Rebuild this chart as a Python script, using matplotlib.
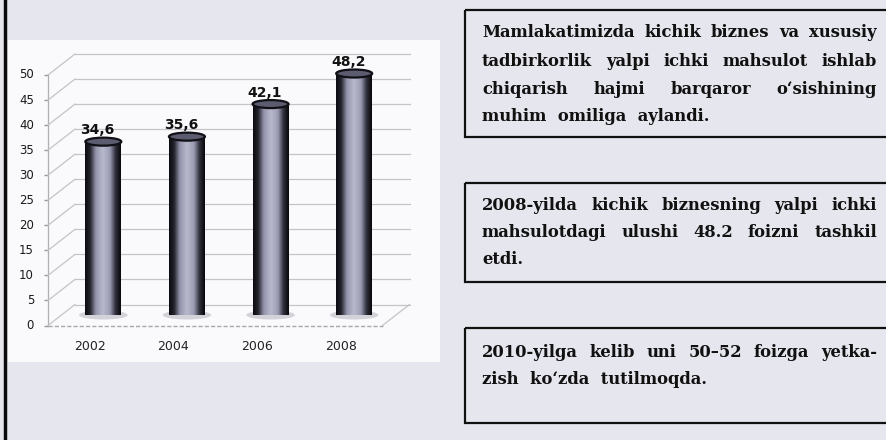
import numpy as np
import matplotlib.pyplot as plt
from matplotlib.colors import LinearSegmentedColormap
from matplotlib.patches import Rectangle, Ellipse
from matplotlib.lines import Line2D
from matplotlib.transforms import ScaledTranslation, IdentityTransform

# data
years = ['2002', '2004', '2006', '2008']
values = [34.6, 35.6, 42.1, 48.2]
value_labels = ['34,6', '35,6', '42,1', '48,2']
y_ticks = list(range(0, 55, 5))

box1_lines = ['Mamlakatimizda kichik biznes va xususiy',
              'tadbirkorlik yalpi ichki mahsulot ishlab',
              'chiqarish hajmi barqaror o‘sishining',
              'muhim omiliga aylandi.']
box2_lines = ['2008-yilda kichik biznesning yalpi ichki',
              'mahsulotdagi ulushi 48.2 foizni tashkil',
              'etdi.']
box3_lines = ['2010-yilga kelib uni 50–52 foizga yetka-',
              'zish ko‘zda tutilmoqda.']

W, H = 886, 440
fig = plt.figure(figsize=(W / 100, H / 100), dpi=100)
fig.patch.set_facecolor('#e6e6ee')

# background layer in pixel coordinates
bg = fig.add_axes([0, 0, 1, 1])
bg.set_xlim(0, W)
bg.set_ylim(H, 0)
bg.axis('off')
bg.add_patch(Rectangle((8, 40), 432, 322, fc='#fafafc', ec='none'))
bg.plot([5, 5], [0, H], color='#0a0a0a', lw=2.5)

# text boxes
boxes = [(10, 137, box1_lines, [37, 65.5, 94, 121]),
         (183, 282, box2_lines, [210, 237, 263.5]),
         (328, 423, box3_lines, [357, 383.5])]
txt_kw = dict(family=['DejaVu Serif'], fontweight='bold',
              fontsize=11.8, color='#111111', va='baseline', ha='left')
renderer = fig.canvas.get_renderer()
x_left, x_right = 482, 877


def justify(words, y):
    texts = [bg.text(0, y, w, **txt_kw) for w in words]
    widths = [t.get_window_extent(renderer).width for t in texts]
    gap = (x_right - x_left - sum(widths)) / (len(words) - 1)
    x = x_left
    for t, wd in zip(texts, widths):
        t.set_x(x)
        x += wd + gap


for y0, y1, lines, bases in boxes:
    bg.add_patch(Rectangle((465, y0), 440, y1 - y0, fc='none', ec='#111111', lw=1.6))
    for k, (line, yb) in enumerate(zip(lines, bases)):
        if k == len(lines) - 1:
            bg.text(x_left, yb, line.replace(' ', '  '), **txt_kw)
        else:
            justify(line.split(' '), yb)

# chart axes (mid-depth plane of the 3D chart)
ax = fig.add_axes([61.5 / W, (H - 315) / H, (396 - 61.5) / W, (315 - 64.5) / H])
ax.axis('off')
ax.patch.set_alpha(0)

dx, dy = 13.5 / 100, 10.5 / 100
back = ax.transData + ScaledTranslation(dx, dy, fig.dpi_scale_trans)
front = ax.transData + ScaledTranslation(-dx, -dy, fig.dpi_scale_trans)
ax.set_xlim(-0.5, 3.5)
ax.set_ylim(0, 50)

grid_c = '#c4c4c8'
for v in y_ticks:
    ax.plot([-0.5, 3.5], [v, v], transform=back, color=grid_c, lw=0.9, clip_on=False, zorder=1)
    pf = front.transform((-0.5, v))
    pb = back.transform((-0.5, v))
    fig.add_artist(Line2D([pf[0], pb[0]], [pf[1], pb[1]], transform=IdentityTransform(),
                          color=grid_c, lw=0.9))
    ax.text(-0.5, v, str(v), transform=front + ScaledTranslation(-0.14, 0, fig.dpi_scale_trans),
            ha='right', va='center', fontsize=8.5, color='#1a1a1a')

# floor and front axis
ax.plot([-0.5, 3.5], [0, 0], transform=front, color='#a8a8ac', lw=1, ls=(0, (3, 1.5)), clip_on=False)
ax.plot([-0.5, -0.5], [0, 50], transform=front, color='#b0b0b4', lw=0.9, clip_on=False)
ax.plot([-0.5] * len(y_ticks), y_ticks, ls='none', marker=0, ms=3, color='#999999',
        transform=front, clip_on=False)
pf = front.transform((3.5, 0))
pb = back.transform((3.5, 0))
fig.add_artist(Line2D([pf[0], pb[0]], [pf[1], pb[1]], transform=IdentityTransform(),
                      color=grid_c, lw=0.9))

for i, yr in enumerate(years):
    ax.text(i, 0, yr, transform=front + ScaledTranslation(0, -0.215, fig.dpi_scale_trans),
            ha='center', va='center', fontsize=9, color='#222222')

# cylinders
cmap = LinearSegmentedColormap.from_list('cyl', [
    (0.0, '#0a0a10'), (0.14, '#22222c'), (0.3, '#9494ac'), (0.5, '#babace'),
    (0.7, '#9a9ab2'), (0.85, '#30303c'), (1.0, '#06060a')])
grad = np.linspace(0, 1, 128).reshape(1, -1)
w = 0.43
for i, v in enumerate(values):
    ax.add_patch(Ellipse((i, 0), w * 1.35, 1.8, fc='#d2d2d8', ec='none', zorder=2, clip_on=False))
    body = Rectangle((i - w / 2, 0), w, v, fc='none', ec='none')
    ax.add_patch(body)
    im = ax.imshow(grad, extent=(i - w / 2, i + w / 2, 0, v), cmap=cmap, aspect='auto',
                   interpolation='bicubic', zorder=3)
    im.set_clip_path(body)
    ax.add_patch(Ellipse((i, v), w, 1.6, fc='#5c5c70', ec='#101016', lw=1.6, zorder=4, clip_on=False))
    ax.text(i, v, value_labels[i],
            transform=ax.transData + ScaledTranslation(-0.06, 0.045, fig.dpi_scale_trans),
            ha='center', va='bottom', fontsize=10, fontweight='bold', color='#111111')

ax.set_xlim(-0.5, 3.5)
ax.set_ylim(0, 50)

fig.savefig('out.png', dpi=100, facecolor=fig.get_facecolor())
